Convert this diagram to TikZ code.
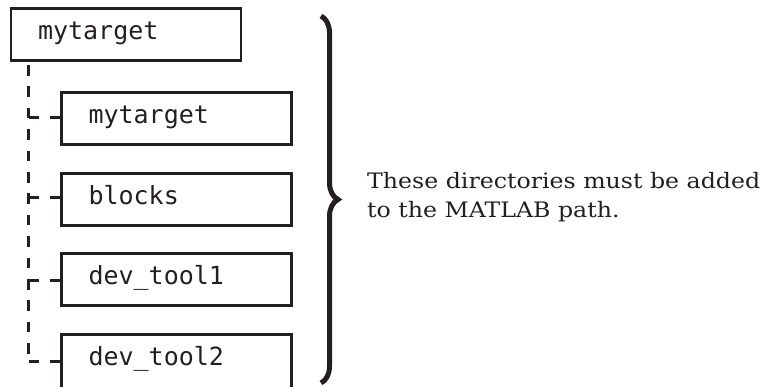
\documentclass[tikz,border=0pt]{standalone}
\usepackage{fontspec}
\setmainfont{DejaVu Serif}
\setmonofont{DejaVu Sans Mono}
\newfontfamily\notefont[FakeStretch=1.11]{DejaVu Serif}
\usetikzlibrary{decorations.pathreplacing}
\definecolor{ink}{RGB}{35,31,32}
\begin{document}
\begin{tikzpicture}[x=1pt,y=-1pt,
  dirbox/.style={draw=ink, line width=2.8pt, rectangle, minimum width=230pt,
    minimum height=52pt, inner xsep=27pt, inner ysep=0pt, text width=176pt,
    align=left, text height=15pt, text depth=5pt, text=ink,
    font=\fontsize{25}{25}\selectfont\ttfamily},
  treeline/.style={draw=ink, line width=3pt, dash pattern=on 10.7pt off 10.7pt},
  note/.style={inner sep=0pt, anchor=base west, text=ink,
    font=\notefont\fontsize{21.3}{28.5}\selectfont}]
\useasboundingbox (0,0) rectangle (766,387);
\clip (0,0) rectangle (766,387);
% boxes
\node[dirbox] (top) at (126,34.5) {mytarget};
\node[dirbox] (c1) at (176.5,118.5) {mytarget};
\node[dirbox] (c2) at (176.5,199.5) {blocks};
\node[dirbox] (c3) at (176.5,279.5) {dev\_tool1};
\node[dirbox, minimum height=60pt, text depth=12pt] (c4) at (176.5,364.5) {dev\_tool2};
% tree
\coordinate (ttop) at (28.5,62);
\coordinate (tbot) at (28.5,354);
\coordinate (t1) at (28.5,117.5);
\coordinate (t2) at (28.5,197.5);
\coordinate (t3) at (28.5,280.5);
\coordinate (t4) at (28.5,362);
\draw[treeline, dash phase=18.4pt] (ttop) -- (tbot);
\draw[treeline] (t1) -- (t1 -| c1.west);
\draw[treeline] (t2) -- (t2 -| c2.west);
\draw[treeline] (t3) -- (t3 -| c3.west);
\draw[treeline] (t4) -- (t4 -| c4.west);
% brace
\coordinate (btop) at (321,16);
\coordinate (bbot) at (321,383);
\draw[draw=ink, line width=5pt, decorate, decoration={brace, amplitude=17pt}] (btop) -- (bbot);
% note
\node[note] (l1) at (367,189) {These directories must be added};
\node[note] (l2) at (367,217.5) {to the MATLAB path.};
\end{tikzpicture}
\end{document}
